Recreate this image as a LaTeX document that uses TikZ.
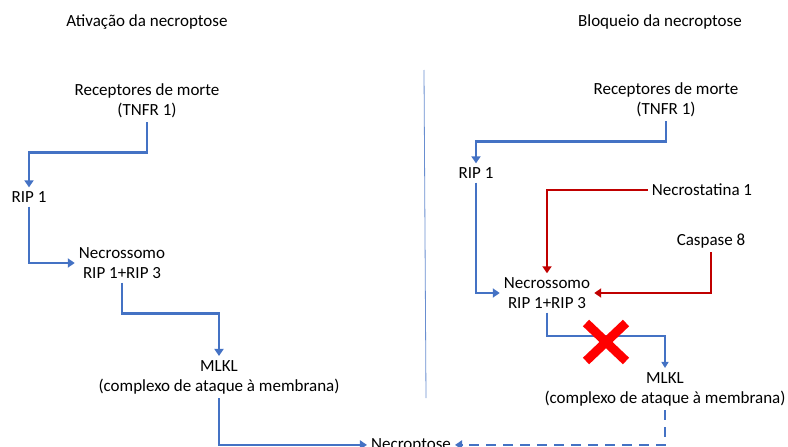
\documentclass[tikz,border=0pt]{standalone}
\usepackage{fontspec}
\setmainfont{Carlito}
\usepackage{xcolor}
\usepackage{tikz}
\usetikzlibrary{calc,arrows.meta}
\definecolor{pathblue}{RGB}{68,114,196}
\definecolor{pathred}{RGB}{192,0,0}

\begin{document}
\begin{tikzpicture}[x=1pt, y=-1pt,
  txt/.style={font=\fontsize{17}{20}\selectfont, align=center, inner sep=4pt},
  arr/.style={pathblue, line width=2.5pt, -{Triangle[length=7pt,width=9pt]}},
  thinarr/.style={pathblue, line width=1.6pt, -{Triangle[length=6pt,width=7pt]}},
  redarr/.style={pathred, line width=2.5pt, -{Triangle[length=7pt,width=9pt]}},
  dasharr/.style={arr, dash pattern=on 10pt off 7pt}]
  \useasboundingbox (0,0) rectangle (788,447);
  % separator
  \draw[pathblue!80, line width=0.8pt] (424,70) -- (426,398);
  % left: activation
  \node[txt] (titleA) at (147,22) {Ativação da necroptose};
  \node[txt] (recA) at (147,101) {Receptores de morte\\(TNFR 1)};
  \node[txt] (ripA) at (29,197) {RIP 1};
  \node[txt] (necA) at (122,263) {Necrossomo\\RIP 1+RIP 3};
  \node[txt] (mlklA) at (219,377) {MLKL\\(complexo de ataque à membrana)};
  \node[txt, anchor=base] (necrop) at (411,449) {Necroptose};
  \draw[arr] (recA.south) -- ++(0,30) -| (ripA.north);
  \draw[arr] (ripA.south) |- (necA.west);
  \draw[arr] (necA.south) -- ++(0,31) -| (mlklA.north);
  \draw[arr] (mlklA.south) |- (necrop.west);
  % right: blocking
  \node[txt] (titleB) at (660,22) {Bloqueio da necroptose};
  \node[txt] (recB) at (666,100) {Receptores de morte\\(TNFR 1)};
  \node[txt] (ripB) at (476,173) {RIP 1};
  \node[txt] (necB) at (547,293) {Necrossomo\\RIP 1+RIP 3};
  \node[txt] (nstat) at (702,190) {Necrostatina 1};
  \node[txt] (casp) at (711,241) {Caspase 8};
  \node[txt] (mlklB) at (665,389) {MLKL\\(complexo de ataque à membrana)};
  \draw[arr] (recB.south) -- ++(0,20) -| (ripB.north);
  \draw[arr] (ripB.south) |- (necB.west);
  \draw[redarr] (nstat.west) -| (necB.north);
  \draw[redarr] (casp.south) |- (necB.east);
  \draw[thinarr] (necB.south) -- ++(0,23) -| (mlklB.north);
  \draw[dasharr] (mlklB.south) |- (necrop.east);
  % block mark
  \coordinate (blk) at (606,342);
  \draw[red, line width=9pt] ($(blk)+(-20,-19)$) -- ($(blk)+(20,19)$);
  \draw[red, line width=9pt] ($(blk)+(-20,19)$) -- ($(blk)+(20,-19)$);
\end{tikzpicture}
\end{document}
